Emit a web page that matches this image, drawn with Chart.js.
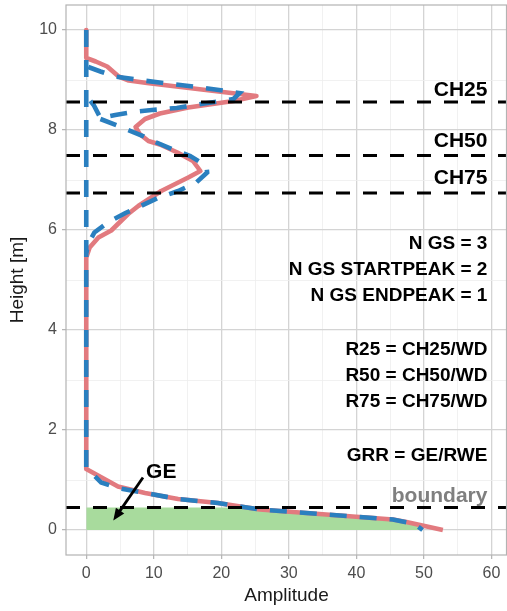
<!DOCTYPE html>
<html>
<head>
<meta charset="utf-8">
<script src="https://cdn.jsdelivr.net/npm/chart.js@4.4.0/dist/chart.umd.min.js"></script>
<style>
  html, body { margin: 0; padding: 0; background: #fff; }
</style>
</head>
<body>
<canvas id="profile-plot" width="507" height="611"></canvas>
<script>
// values (amplitude, height in m)
const redAmp = [0, 0, 1.4, 3.1, 4.8, 6.3, 9.0, 17.1, 25.2, 21.8, 15.1, 10.9, 8.7, 7.3, 7.9, 9.2, 10.9, 13.5, 15.8, 16.9, 15.1, 11.1, 7.7, 6.2, 3.7, 1.8, 0.5, 0, 0, 4.7, 8.7, 13.6, 19.5, 25.7, 35.5, 45.4, 47.4, 52.8]
const redHeight = [10, 9.44, 9.37, 9.27, 9.07, 8.99, 8.94, 8.81, 8.68, 8.58, 8.45, 8.33, 8.22, 8.06, 7.92, 7.78, 7.71, 7.55, 7.38, 7.18, 7.05, 6.78, 6.48, 6.32, 5.99, 5.85, 5.65, 5.45, 1.22, 0.87, 0.74, 0.62, 0.54, 0.41, 0.31, 0.21, 0.16, 0]

const blueAmp = [0, 0, 2.2, 4.7, 8.7, 13.6, 19.5, 25.7, 35.5, 45.4, 47.5, 49.0, 49.8]
const blueHeight = [10, 1.25, 0.95, 0.84, 0.74, 0.62, 0.54, 0.41, 0.31, 0.21, 0.15, 0.08, 0]

const blueUpperAmp = [0.3, 2.1, 4.3, 7.9, 12, 17, 22.7, 21.8, 17, 13.4, 9.7, 7.5, 4.3, 2.1, 1.1, 0.4]
const blueUpperHeight = [9.26, 9.17, 9.07, 9.0, 8.93, 8.85, 8.74, 8.62, 8.52, 8.44, 8.4, 8.37, 8.3, 8.24, 8.5, 8.62]

const blueLowerAmp = [2.1, 5.5, 8.4, 10.4, 13.4, 15.4, 17.8, 17.9, 16.3, 13.6, 10.6, 8.1, 5.8, 3.2, 1.2, 0.4, 0]
const blueLowerHeight = [8.22, 8.04, 7.88, 7.75, 7.58, 7.48, 7.28, 7.15, 6.95, 6.78, 6.64, 6.48, 6.34, 6.15, 5.95, 5.75, 5.55]

// ground echo area below the boundary
const groundAmp = [0, 23, 25.7, 35.5, 45.4, 47.5, 49.0, 49.8]
const groundHeight = [0.45, 0.45, 0.41, 0.31, 0.21, 0.15, 0.08, 0]

const levelNames = ['CH25', 'CH50', 'CH75', 'boundary']
const levelHeights = [8.56, 7.49, 6.74, 0.45]

const xTicks = [0, 10, 20, 30, 40, 50, 60]
const yTicks = [0, 2, 4, 6, 8, 10]
const xRange = [-3, 62.3]
const yRange = [-0.5, 10.5]

const infoLines = ['N GS = 3', 'N GS STARTPEAK = 2', 'N GS ENDPEAK = 1', 'R25 = CH25/WD', 'R50 = CH50/WD', 'R75 = CH75/WD', 'GRR = GE/RWE']

const FONT = '"Liberation Sans", Arial, sans-serif'

function pts(xs, ys) {
    return xs.map((x, i) => ({x: x, y: ys[i]}))
}

const levelSets = levelHeights.map((h) => ({
    data: [{x: xRange[0], y: h}, {x: xRange[1], y: h}],
    borderColor: '#000000', borderWidth: 3.2, borderDash: [14, 13], pointRadius: 0, order: 0
}))

const isMajorX = (v) => xTicks.includes(v)
const isMajorY = (v) => yTicks.includes(v)

// text labels + arrow + panel border
const overlay = {
    id: 'overlay',
    afterDatasetsDraw(chart) {
        const c = chart.ctx
        const xs = chart.scales.x, ys = chart.scales.y
        const a = chart.chartArea
        c.save()
        c.strokeStyle = '#B3B3B3'
        c.lineWidth = 1.2
        c.strokeRect(a.left, a.top, a.right - a.left - 0.5, a.bottom - a.top)

        c.textAlign = 'right'
        c.textBaseline = 'alphabetic'
        const rx = xs.getPixelForValue(59.4)
        const put = (txt, h, size, col) => {
            c.font = 'bold ' + size + 'px ' + FONT
            c.fillStyle = col || '#000000'
            c.fillText(txt, rx, ys.getPixelForValue(h) + size * 0.36)
        }
        put(levelNames[0], 8.83, 21)
        put(levelNames[1], 7.81, 21)
        put(levelNames[2], 7.07, 21)
        const infoH = [5.75, 5.23, 4.71, 3.64, 3.12, 2.60, 1.52]
        infoLines.forEach((t, i) => put(t, infoH[i], 19))
        put(levelNames[3], 0.71, 21, '#7F7F7F')

        c.textAlign = 'center'
        c.fillStyle = '#000000'
        c.font = 'bold 21px ' + FONT
        c.fillText('GE', xs.getPixelForValue(11.1), ys.getPixelForValue(1.2) + 7.5)

        // arrow GE -> area
        const x0 = xs.getPixelForValue(8.4), y0 = ys.getPixelForValue(1.05)
        const x1 = xs.getPixelForValue(4.0), y1 = ys.getPixelForValue(0.19)
        const ang = Math.atan2(y1 - y0, x1 - x0)
        c.strokeStyle = '#000000'
        c.lineWidth = 2.8
        c.beginPath()
        c.moveTo(x0, y0)
        c.lineTo(x1 - 8 * Math.cos(ang), y1 - 8 * Math.sin(ang))
        c.stroke()
        c.beginPath()
        c.moveTo(x1, y1)
        c.lineTo(x1 - 13 * Math.cos(ang - 0.4), y1 - 13 * Math.sin(ang - 0.4))
        c.lineTo(x1 - 13 * Math.cos(ang + 0.4), y1 - 13 * Math.sin(ang + 0.4))
        c.closePath()
        c.fillStyle = '#000000'
        c.fill()
        c.restore()
    }
}

const ctx = document.getElementById('profile-plot')
new Chart(ctx, {
    type: 'line',
    data: {
        datasets: [
            ...levelSets,
            {data: pts(blueAmp, blueHeight), borderColor: '#2A7FBF', borderWidth: 4.6, borderDash: [17, 13], pointRadius: 0, order: 1},
            {data: pts(blueUpperAmp, blueUpperHeight), borderColor: '#2A7FBF', borderWidth: 4.6, borderDash: [17, 13], pointRadius: 0, order: 1},
            {data: pts(blueLowerAmp, blueLowerHeight), borderColor: '#2A7FBF', borderWidth: 4.6, borderDash: [17, 13], pointRadius: 0, order: 1},
            {data: pts(redAmp, redHeight), borderColor: '#E27A7F', borderWidth: 4.6, borderJoinStyle: 'round', pointRadius: 0, order: 2},
            {data: pts(groundAmp, groundHeight), borderWidth: 0, borderColor: 'rgba(0,0,0,0)', backgroundColor: '#A8DB9D', fill: 'origin', pointRadius: 0, order: 3}
        ]
    },
    options: {
        responsive: false,
        animation: false,
        layout: {padding: {top: 5, right: 0, left: 0, bottom: 0}},
        plugins: {legend: {display: false}, tooltip: {enabled: false}},
        scales: {
            x: {
                type: 'linear', min: xRange[0], max: xRange[1],
                afterBuildTicks: (s) => { s.ticks = [0, 5, 10, 15, 20, 25, 30, 35, 40, 45, 50, 55, 60].map(v => ({value: v})) },
                afterFit: (s) => { s.height = 56; s.paddingLeft = 0; s.paddingRight = 0 },
                border: {display: false},
                grid: {
                    color: (c) => isMajorX(c.tick.value) ? '#D4D4D4' : '#EEEEEE',
                    lineWidth: (c) => isMajorX(c.tick.value) ? 1.3 : 0.8,
                    tickColor: (c) => isMajorX(c.tick.value) ? '#B3B3B3' : 'rgba(0,0,0,0)',
                    tickLength: 4, tickWidth: 1.2
                },
                ticks: {
                    autoSkip: false, maxRotation: 0, padding: 5, color: '#4D4D4D',
                    font: {family: FONT, size: 16},
                    callback: (v) => isMajorX(v) ? String(v) : ''
                },
                title: {display: true, text: 'Amplitude', color: '#1A1A1A', font: {family: FONT, size: 19}, padding: {top: 4, bottom: 4}}
            },
            y: {
                type: 'linear', min: yRange[0], max: yRange[1],
                afterBuildTicks: (s) => { s.ticks = [0, 1, 2, 3, 4, 5, 6, 7, 8, 9, 10].map(v => ({value: v})) },
                afterFit: (s) => { s.width = 66; s.paddingTop = 0; s.paddingBottom = 0 },
                border: {display: false},
                grid: {
                    color: (c) => isMajorY(c.tick.value) ? '#D4D4D4' : '#EEEEEE',
                    lineWidth: (c) => isMajorY(c.tick.value) ? 1.3 : 0.8,
                    tickColor: (c) => isMajorY(c.tick.value) ? '#B3B3B3' : 'rgba(0,0,0,0)',
                    tickLength: 4, tickWidth: 1.2
                },
                ticks: {
                    autoSkip: false, padding: 5, color: '#4D4D4D',
                    font: {family: FONT, size: 16},
                    callback: (v) => isMajorY(v) ? String(v) : ''
                },
                title: {display: true, text: 'Height [m]', color: '#1A1A1A', font: {family: FONT, size: 19}, padding: {top: 6, bottom: 4}}
            }
        }
    },
    plugins: [overlay]
})
</script>
</body>
</html>
